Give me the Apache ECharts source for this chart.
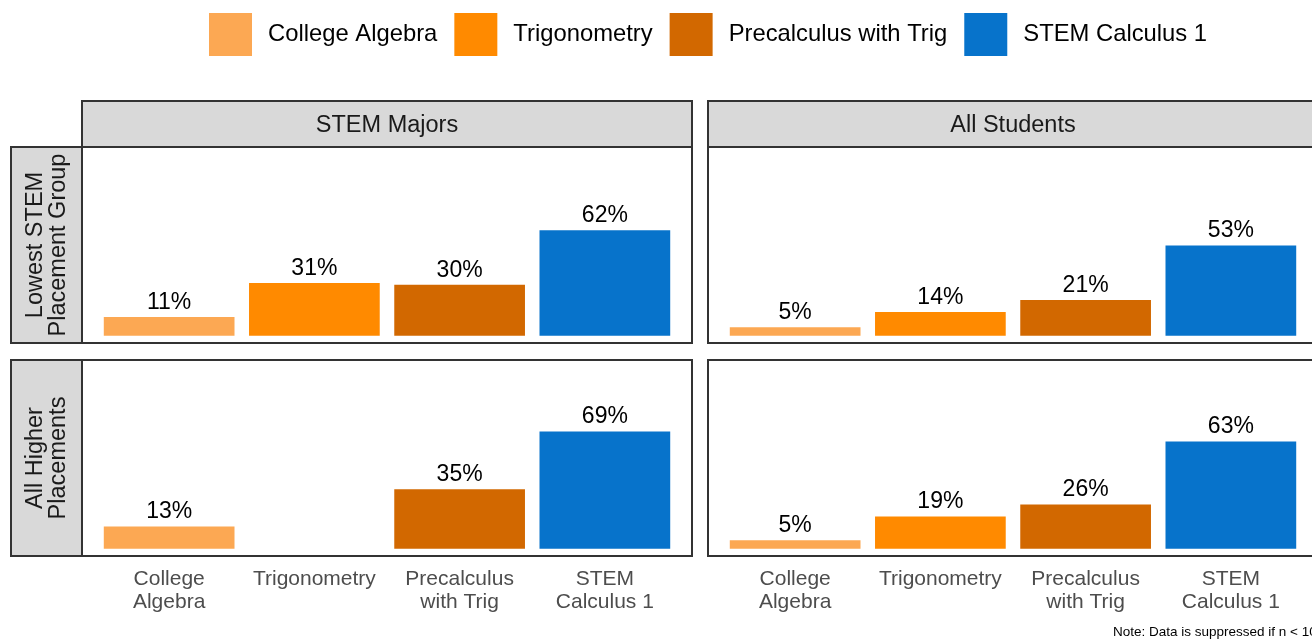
<!DOCTYPE html>
<html lang="en">
<head>
<meta charset="UTF-8">
<title>Placement success</title>
<script src="https://cdn.jsdelivr.net/npm/echarts@6/dist/echarts.min.js"></script>
<style>
  html, body { margin: 0; padding: 0; background: #fff; }
  #main { width: 1312px; height: 639px; }
</style>
</head>
<body>
<div id="main"></div>
<script type="text/javascript">
// categories / facets
var courses = ['College Algebra', 'Trigonometry', 'Precalculus with Trig', 'STEM Calculus 1'];
var courseLabels = ['College\nAlgebra', 'Trigonometry', 'Precalculus\nwith Trig', 'STEM\nCalculus 1'];
var colNames = ['STEM Majors', 'All Students'];
var rowNames = ['Lowest STEM\nPlacement Group', 'All Higher\nPlacements'];
var courseColors = ['#fca853', '#ff8a00', '#d26800', '#0773cb'];

// percent values, one array per panel (null = suppressed)
var stemLowest = [11, 31, 30, 62];
var allLowest = [5, 14, 21, 53];
var stemHigher = [13, null, 35, 69];
var allHigher = [5, 19, 26, 63];

var panelValues = [[stemLowest, allLowest], [stemHigher, allHigher]];

var FONT = '"Liberation Sans", Arial, sans-serif';

// panel layout (px)
var panelX = [82, 708];
var panelW = 610;
var panelY = [147, 360];
var panelH = 196;
var stripH = 46;
var rowStripX = 11;

var myChart = echarts.init(document.getElementById('main'));

var grids = [], xAxes = [], yAxes = [], series = [], graphics = [];
var idx = 0;
for (var r = 0; r < 2; r++) {
    for (var c = 0; c < 2; c++) {
        // discrete axis padding like ggplot: 0.6 units each side over 4.2 units
        var unit = panelW / 4.2;
        grids.push({
            left: panelX[c] + unit * 0.1,
            top: panelY[r],
            width: unit * 4,
            height: panelH
        });
        xAxes.push({
            gridIndex: idx,
            type: 'category',
            data: courseLabels,
            axisLine: { show: false },
            axisTick: { show: false },
            axisLabel: {
                show: r === 1,
                interval: 0,
                margin: 12,
                color: '#4d4d4d',
                fontSize: 21,
                lineHeight: 23,
                fontFamily: FONT,
                verticalAlign: 'top'
            }
        });
        yAxes.push({
            gridIndex: idx,
            type: 'value',
            min: -4.3,
            max: 111,
            show: false,
            splitLine: { show: false }
        });
        var vals = panelValues[r][c];
        for (var k = 0; k < courses.length; k++) {
            var d = courses.map(function () { return null; });
            d[k] = vals[k];
            series.push({
                name: courses[k],
                type: 'bar',
                xAxisIndex: idx,
                yAxisIndex: idx,
                data: d,
                barGap: '-100%',
                barCategoryGap: '10%',
                itemStyle: { color: courseColors[k] },
                label: {
                    show: true,
                    position: 'top',
                    distance: 3,
                    formatter: '{c}%',
                    color: '#000',
                    fontSize: 23,
                    fontFamily: FONT
                },
                emphasis: { disabled: true },
                animation: false
            });
        }
        // panel frame
        graphics.push({
            type: 'rect',
            shape: { x: panelX[c], y: panelY[r], width: panelW, height: panelH },
            style: { fill: 'none', stroke: '#333', lineWidth: 2 },
            z: 10
        });
        idx++;
    }
}

// column strips
for (var c2 = 0; c2 < 2; c2++) {
    graphics.push({
        type: 'rect',
        shape: { x: panelX[c2], y: panelY[0] - stripH, width: panelW, height: stripH },
        style: { fill: '#d9d9d9', stroke: '#333', lineWidth: 2 },
        z: 9
    });
    graphics.push({
        type: 'text',
        x: panelX[c2] + panelW / 2,
        y: panelY[0] - stripH / 2 + 2,
        style: {
            text: colNames[c2],
            fill: '#1a1a1a',
            font: '23.5px ' + FONT,
            align: 'center',
            verticalAlign: 'middle'
        },
        z: 11
    });
}
// row strips
for (var r2 = 0; r2 < 2; r2++) {
    graphics.push({
        type: 'rect',
        shape: { x: rowStripX, y: panelY[r2], width: panelX[0] - rowStripX, height: panelH },
        style: { fill: '#d9d9d9', stroke: '#333', lineWidth: 2 },
        z: 9
    });
    graphics.push({
        type: 'text',
        x: (rowStripX + panelX[0]) / 2 + 1,
        y: panelY[r2] + panelH / 2,
        rotation: Math.PI / 2,
        style: {
            text: rowNames[r2],
            fill: '#1a1a1a',
            font: '23.5px ' + FONT,
            lineHeight: 23,
            align: 'center',
            verticalAlign: 'middle'
        },
        z: 11
    });
}
// footnote
graphics.push({
    type: 'text',
    x: 1113,
    y: 632,
    style: {
        text: 'Note: Data is suppressed if n < 10',
        fill: '#000',
        font: '13.5px ' + FONT,
        verticalAlign: 'middle'
    }
});

var option = {
    backgroundColor: '#fff',
    animation: false,
    legend: {
        data: courses,
        left: 209,
        top: 13,
        padding: 0,
        icon: 'rect',
        itemWidth: 43,
        itemHeight: 43,
        itemGap: 17,
        selectedMode: false,
        textStyle: {
            fontSize: 23.8,
            color: '#000',
            fontFamily: FONT,
            padding: [0, 0, 0, 11]
        }
    },
    grid: grids,
    xAxis: xAxes,
    yAxis: yAxes,
    series: series,
    graphic: graphics
};

myChart.setOption(option);
</script>
</body>
</html>
